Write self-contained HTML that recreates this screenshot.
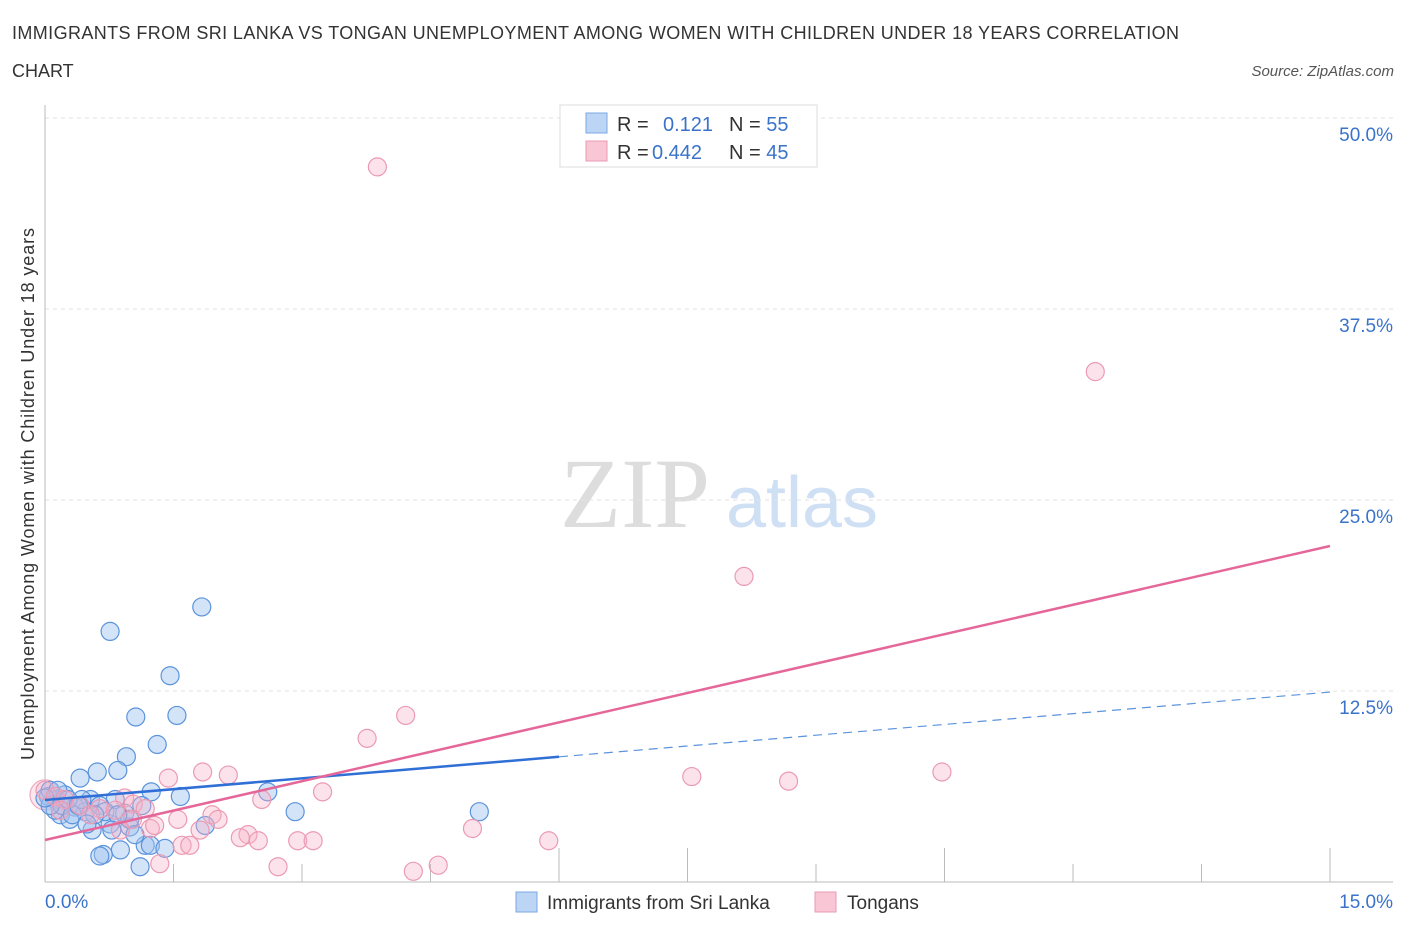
<!DOCTYPE html>
<html><head><meta charset="utf-8"><style>
body{margin:0;background:#fff;font-family:"Liberation Sans",sans-serif;}
</style></head><body>
<svg width="1406" height="930" xmlns="http://www.w3.org/2000/svg" style="font-family:'Liberation Sans',sans-serif">
<text x="12" y="39" font-size="18" fill="#333" textLength="1167">IMMIGRANTS FROM SRI LANKA VS TONGAN UNEMPLOYMENT AMONG WOMEN WITH CHILDREN UNDER 18 YEARS CORRELATION</text>
<text x="12" y="77" font-size="18" fill="#333">CHART</text>
<text x="1394" y="76" font-size="15" fill="#555" font-style="italic" text-anchor="end">Source: ZipAtlas.com</text>
<text x="635" y="527" font-size="100" fill="#ddd" font-family="Liberation Serif" text-anchor="middle">ZIP</text>
<text x="802" y="527" font-size="72" fill="#cfe0f5" text-anchor="middle">atlas</text>
<text transform="translate(34,494) rotate(-90)" font-size="18" fill="#333" text-anchor="middle" textLength="532">Unemployment Among Women with Children Under 18 years</text>
<g id="grid"></g><g id="axes"></g><g id="pts"></g><g id="lines"></g>
<g>
<rect x="560" y="105" width="257" height="62" fill="#fff" stroke="#ddd"/>
<rect x="586" y="113" width="21" height="20" fill="#bcd5f5" stroke="#7aa8e4"/>
<rect x="586" y="141" width="21" height="20" fill="#f9c6d5" stroke="#eb9ab3"/>
<text x="617" y="131" font-size="20" fill="#333">R = <tspan fill="#3a73c9" x="663">0.121</tspan><tspan x="729" fill="#333">N = </tspan><tspan fill="#3a73c9">55</tspan></text>
<text x="617" y="159" font-size="20" fill="#333">R = <tspan fill="#3a73c9" x="652">0.442</tspan><tspan x="729" fill="#333">N = </tspan><tspan fill="#3a73c9">45</tspan></text>
</g>
<g>
<rect x="516" y="892" width="21" height="20" fill="#bcd5f5" stroke="#7aa8e4"/>
<text x="547" y="909" font-size="19" fill="#333">Immigrants from Sri Lanka</text>
<rect x="815" y="892" width="21" height="20" fill="#f9c6d5" stroke="#eb9ab3"/>
<text x="847" y="909" font-size="19" fill="#333">Tongans</text>
</g>
</svg>
<script>
const yTicks=[12.5,25,37.5,50];
const yTickLabels=["12.5%","25.0%","37.5%","50.0%"];
const xTickLabels=["0.0%","15.0%"];
const blueX=[1.83,0.76,1.46,1.06,1.54,1.31,0.95,0.61,0.85,0.41,1.24,1.58,2.60,2.92,5.07,1.13,0.82,0.12,0.23,0.53,0.35,0.18,0.47,0.64,0.93,0.29,0.76,0.99,0.55,1.17,1.23,0.88,0.68,0.64,1.11,1.87,1.40,0.12,0.04,0.06,0.20,0.43,0.70,0.99,0.32,0.58,0.85,0.06,0.15,0.27,0.49,0.78,1.05,0.39,0.0];
const blueY=[18.0,16.4,13.5,10.8,10.9,9.0,8.2,7.2,7.3,6.8,5.9,5.6,5.9,4.6,4.6,5.0,5.4,5.4,5.7,5.4,4.9,4.4,4.6,5.0,4.5,4.1,3.8,3.6,3.4,2.4,2.4,2.1,1.8,1.7,1.0,3.7,2.2,4.7,5.6,6.0,5.0,5.4,4.6,4.1,4.4,4.4,4.4,5.0,6.0,5.4,3.8,3.4,3.1,5.0,5.5];
const pinkX=[3.88,12.26,8.16,4.21,3.76,10.47,7.55,8.68,1.44,1.84,2.14,3.24,2.53,0.93,1.03,1.17,1.55,1.95,2.02,1.02,1.23,1.28,1.81,2.37,2.28,2.49,2.95,3.13,4.99,5.88,1.60,1.69,1.34,2.72,4.30,4.59,0.0,0.12,0.23,0.41,0.64,0.82,0.18,0.53,0.88];
const pinkY=[46.8,33.4,20.0,10.9,9.4,7.2,6.9,6.6,6.8,7.2,7.0,5.9,5.4,5.5,5.1,4.8,4.1,4.4,4.1,4.1,3.5,3.7,3.4,3.1,2.9,2.7,2.7,2.7,3.5,2.7,2.4,2.4,1.2,1.0,0.7,1.1,6.0,5.6,5.4,5.0,4.8,4.7,4.7,4.4,3.4];
const blueTrend=[5.37,12.43], pinkTrend=[2.75,21.99];
const X=v=>45+v*(1285/15), Y=v=>882-v*(764/50);
const NS="http://www.w3.org/2000/svg";
function mk(t,a,p){const e=document.createElementNS(NS,t);for(const k in a)e.setAttribute(k,a[k]);document.getElementById(p).appendChild(e);return e;}
yTicks.forEach((t,i)=>{
 const l=mk('line',{x1:45,x2:1393,y1:Y(t),y2:Y(t),stroke:'#e2e2e2','stroke-dasharray':'4,4'},'grid');
 
 
 const tx=mk('text',{x:1393,y:Y(t)+23,'font-size':19,fill:'#3a73c9','text-anchor':'end'},'axes');
 tx.textContent=yTickLabels[i];
 
 
});
let ax=mk('line',{x1:45,x2:45,y1:105,y2:882,stroke:'#bbb'},'axes');


ax=mk('line',{x1:45,x2:1393,y1:882,y2:882,stroke:'#bbb'},'axes');


for(let i=1;i<=10;i++){const v=i*1.5;const tall=[4,5,7,10].includes(i);
 const t=mk('line',{x1:X(v),x2:X(v),y1:tall?848:864,y2:882,stroke:'#bbb'},'axes');
 
 }
[[0,'start',45],[1,'end',1393]].forEach(([i,a,x])=>{const t=mk('text',{x:x,y:908,'font-size':19,fill:'#3a73c9','text-anchor':a},'axes');t.textContent=xTickLabels[i];
 
 });
let big=mk('circle',{cx:X(0),cy:Y(5.7),r:15,fill:'rgba(245,175,198,0.3)',stroke:'#eeaabf','stroke-width':1.2},'pts');


blueX.forEach((v,i)=>{const c=mk('circle',{cx:X(v),cy:Y(blueY[i]),r:9,fill:'rgba(160,196,240,0.45)',stroke:'#5b93dc','stroke-width':1.2},'pts');
 
 });
pinkX.forEach((v,i)=>{const c=mk('circle',{cx:X(v),cy:Y(pinkY[i]),r:9,fill:'rgba(245,175,198,0.35)',stroke:'#eb9ab3','stroke-width':1.2},'pts');
 
 });
const bAt=v=>blueTrend[0]+(blueTrend[1]-blueTrend[0])*v/15;
let l=mk('line',{x1:X(0),y1:Y(bAt(0)),x2:X(6),y2:Y(bAt(6)),stroke:'#2f6fd6','stroke-width':2.5},'lines');


l=mk('line',{x1:X(6),y1:Y(bAt(6)),x2:X(15),y2:Y(bAt(15)),stroke:'#5b93dc','stroke-width':1.2,'stroke-dasharray':'9,6'},'lines');


l=mk('line',{x1:X(0),y1:Y(pinkTrend[0]),x2:X(15),y2:Y(pinkTrend[1]),stroke:'#e5679a','stroke-width':2.5},'lines');


</script>
</body></html>
